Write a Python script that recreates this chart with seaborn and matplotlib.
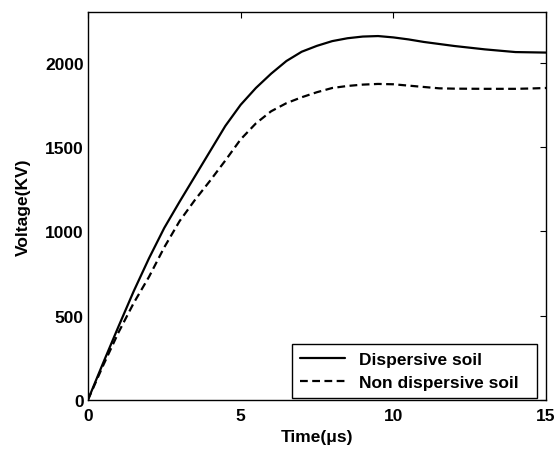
import numpy as np
import pandas as pd
import seaborn as sns
import matplotlib
matplotlib.use("Agg")
import matplotlib.pyplot as plt

# values
t_disp = [0, 0.5, 1.0, 1.5, 2.0, 2.5, 3.0, 3.5, 4.0, 4.5, 5.0, 5.5, 6.0, 6.5, 7.0, 7.5,
          8.0, 8.5, 9.0, 9.5, 10.0, 10.5, 11.0, 12.0, 13.0, 14.0, 15.0]
v_disp = [0, 220, 435, 645, 840, 1020, 1175, 1325, 1475, 1625, 1750, 1850, 1935, 2010, 2065, 2100,
          2128, 2145, 2155, 2158, 2150, 2138, 2123, 2099, 2079, 2063, 2060]

t_nondisp = [0, 0.5, 1.0, 1.5, 2.0, 2.5, 3.0, 3.5, 4.0, 4.5, 5.0, 5.5, 6.0, 6.5, 7.0, 7.5,
             8.0, 8.5, 9.0, 9.5, 10.0, 10.5, 11.0, 11.5, 12.0, 13.0, 14.0, 14.5, 15.0]
v_nondisp = [0, 205, 400, 575, 730, 905, 1060, 1185, 1300, 1420, 1545, 1640, 1712, 1760, 1795, 1825,
             1850, 1862, 1870, 1874, 1872, 1864, 1856, 1848, 1846, 1845, 1845, 1847, 1850]

x_ticks = [0, 5, 10, 15]
y_ticks = [0, 500, 1000, 1500, 2000]

sns.set_theme(style="white")
plt.rcParams['font.family'] = ['Liberation Sans', 'DejaVu Sans']
plt.rcParams['font.weight'] = 'bold'
plt.rcParams['text.color'] = 'black'
plt.rcParams['axes.labelcolor'] = 'black'

df_disp = pd.DataFrame({'t': t_disp, 'v': v_disp})
df_non = pd.DataFrame({'t': t_nondisp, 'v': v_nondisp})

fig = plt.figure(figsize=(5.6, 4.52), dpi=100)
ax = fig.add_axes([0.157, 0.113, 0.818, 0.858])

sns.lineplot(data=df_disp, x='t', y='v', ax=ax, color='black', lw=1.6,
             label='Dispersive soil')
sns.lineplot(data=df_non, x='t', y='v', ax=ax, color='black', lw=1.6,
             linestyle=(0, (3.5, 2)), label='Non dispersive soil')

ax.set_xlim(0, 15)
ax.set_ylim(0, 2300)
ax.set_xticks(x_ticks)
ax.set_yticks(y_ticks)
ax.tick_params(direction='in', length=4, width=0.8, top=True, right=True,
               labelsize=12.5, colors='black')
ax.tick_params(axis='x', pad=6)
ax.tick_params(axis='y', pad=3)
for lab in ax.get_xticklabels() + ax.get_yticklabels():
    lab.set_fontweight('bold')
for s in ax.spines.values():
    s.set_color('black')
    s.set_linewidth(1.0)

ax.set_xlabel('Time(μs)', fontsize=12.5, fontweight='bold', labelpad=4)
ax.set_ylabel('Voltage(KV)', fontsize=12.5, fontweight='bold', labelpad=10)

leg = ax.legend(loc='lower left', bbox_to_anchor=(0.445, 0.005, 0.535, 0.15),
                mode='expand', fontsize=12.5, frameon=True, fancybox=False,
                edgecolor='black', framealpha=1, handlelength=2.6,
                borderaxespad=0, borderpad=0.45, labelspacing=0.45)
leg.get_frame().set_linewidth(1.0)
for txt in leg.get_texts():
    txt.set_fontweight('bold')

fig.savefig("out.png", dpi=100)
